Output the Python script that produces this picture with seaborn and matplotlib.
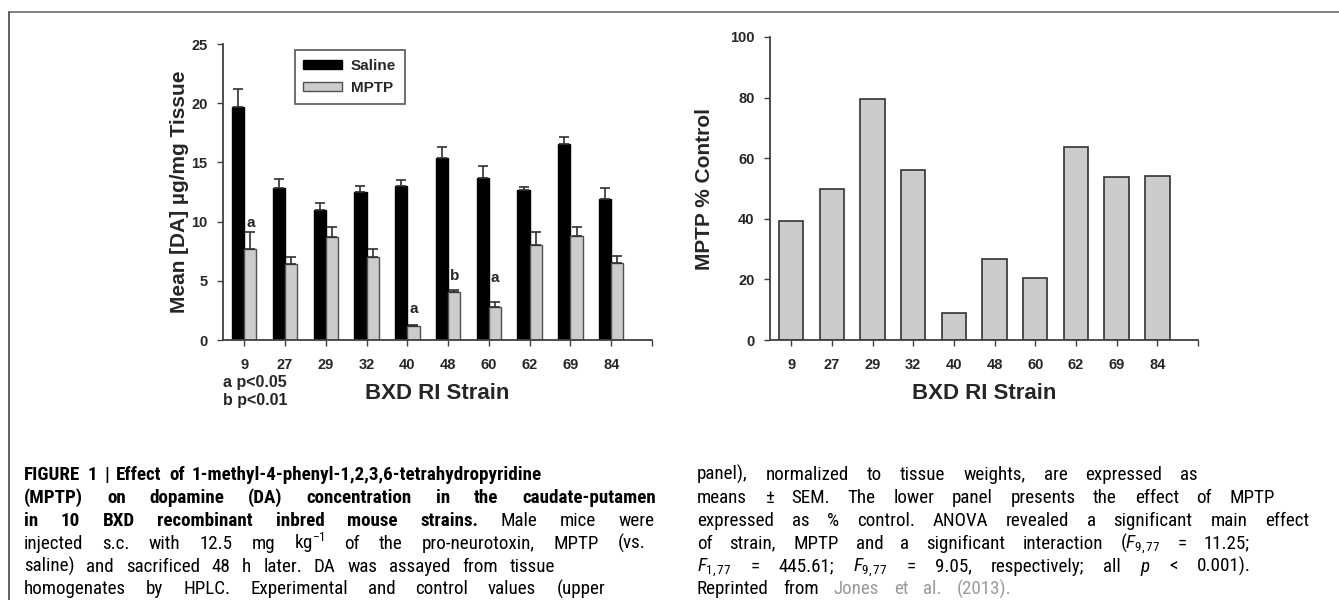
import numpy as np
import pandas as pd
import matplotlib
matplotlib.use("Agg")
import matplotlib.pyplot as plt
from matplotlib import font_manager
from matplotlib.lines import Line2D
from matplotlib.patches import Patch
import seaborn as sns

# data
strains = ['9', '27', '29', '32', '40', '48', '60', '62', '69', '84']
saline = [19.65, 12.87, 10.98, 12.47, 13.03, 15.34, 13.71, 12.70, 16.53, 11.94]
saline_sem = [1.58, 0.76, 0.62, 0.56, 0.46, 0.99, 1.01, 0.22, 0.59, 0.90]
mptp = [7.71, 6.39, 8.73, 6.98, 1.15, 4.05, 2.79, 8.05, 8.81, 6.48]
mptp_sem = [1.41, 0.62, 0.84, 0.73, 0.12, 0.17, 0.45, 1.04, 0.76, 0.61]
pct_control = [39.4, 49.9, 79.5, 56.1, 8.8, 26.6, 20.6, 63.6, 53.7, 54.2]

sig_strain = ['9', '40', '48', '60']
sig_letter = ['a', 'a', 'b', 'a']
sig_y = [9.57, 2.25, 5.07, 4.93]

groups = ['Saline', 'MPTP']
group_colours = {'Saline': 'black', 'MPTP': '#cccccc'}

left_caption = [
    ([("FIGURE 1 | Effect of 1-methyl-4-phenyl-1,2,3,6-tetrahydropyridine", 'bold', 'black')], 542),
    ([("(MPTP) on dopamine (DA) concentration in the caudate-putamen", 'bold', 'black')], 656),
    ([("in 10 BXD recombinant inbred mouse strains.", 'bold', 'black'),
      ("Male mice were", 'normal', 'black')], 655),
    ([(r"injected s.c. with 12.5 mg kg$^{-1}$ of the pro-neurotoxin, MPTP (vs.", 'normal', 'black')], 646),
    ([("saline) and sacrificed 48 h later. DA was assayed from tissue", 'normal', 'black')], 555),
    ([("homogenates by HPLC. Experimental and control values (upper", 'normal', 'black')], 605),
]
right_caption = [
    ([("panel), normalized to tissue weights, are expressed as", 'normal', 'black')], 1198),
    ([("means \u00b1 SEM. The lower panel presents the effect of MPTP", 'normal', 'black')], 1275),
    ([("expressed as % control. ANOVA revealed a significant main effect", 'normal', 'black')], 1309),
    ([(r"of strain, MPTP and a significant interaction ($F_{9,77}$ = 11.25;", 'normal', 'black')], 1250),
    ([(r"$F_{1,77}$ = 445.61; $F_{9,77}$ = 9.05, respectively; all $p$ < 0.001).", 'normal', 'black')], 1251),
    ([("Reprinted from", 'normal', 'black'), ("Jones et al. (2013).", 'normal', '#9a9a9a')], 1011),
]

sns.set_style('ticks')
plt.rcParams['font.family'] = ['Liberation Sans', 'DejaVu Sans']

# caption font: a narrow sans if one is installed, plain Liberation Sans otherwise
cap_font, cap_stretch = 'Liberation Sans', 'normal'
narrow = []
for f in font_manager.fontManager.ttflist:
    if 'Mono' in f.name or 'Serif' in f.name or 'CJK' in f.name:
        continue
    if 'Narrow' in f.name or 'Condensed' in f.name or f.stretch in ('condensed', 'semi-condensed'):
        narrow.append((f.name, f.stretch))
for pref in ('Liberation Sans Narrow', 'Roboto Condensed', 'Open Sans Condensed', 'Noto Sans',
             'DejaVu Sans'):
    hit = [c for c in narrow if c[0] == pref]
    if hit:
        cap_font, cap_stretch = hit[0]
        break
plt.rcParams['mathtext.fontset'] = 'custom'
plt.rcParams['mathtext.rm'] = cap_font
plt.rcParams['mathtext.it'] = cap_font + ':italic'

W, H = 1339, 600
fig = plt.figure(figsize=(W / 100, H / 100), dpi=100)
fig.patch.set_facecolor('white')
ax1 = fig.add_axes([223 / W, 1 - 340 / H, (652 - 223) / W, 296 / H])
ax2 = fig.add_axes([770 / W, 1 - 340 / H, (1198 - 770) / W, 303 / H])

# upper panel: saline vs MPTP
df = pd.DataFrame({'strain': strains * 2,
                   'group': ['Saline'] * len(strains) + ['MPTP'] * len(strains),
                   'da': saline + mptp})
sns.barplot(data=df, x='strain', y='da', hue='group', order=strains, hue_order=groups,
            palette=group_colours, width=0.6, gap=0, errorbar=None, saturation=1,
            edgecolor='#404040', linewidth=1.0, legend=False, ax=ax1)

for bars, sem, edge in zip(ax1.containers, [saline_sem, mptp_sem], ['black', '#505050']):
    for b in bars:
        b.set_edgecolor(edge)
    xs = [b.get_x() + b.get_width() / 2 for b in bars]
    hs = [b.get_height() for b in bars]
    ax1.errorbar(xs, hs, yerr=[np.zeros(len(sem)), sem], fmt='none', ecolor='#303030',
                 elinewidth=1.2, capsize=3.5, capthick=1.2)

mptp_bars = ax1.containers[1]
for s, letter, y in zip(sig_strain, sig_letter, sig_y):
    b = mptp_bars[strains.index(s)]
    ax1.text(b.get_x() + b.get_width() / 2, y, letter, ha='center', va='baseline',
             fontsize=11, fontweight='bold')

handles = [Patch(facecolor=group_colours[g], edgecolor='black' if g == 'Saline' else '#505050')
           for g in groups]
leg = ax1.legend(handles, groups, loc='upper left', bbox_to_anchor=(0.149, 1.004),
                 frameon=True, fancybox=False, edgecolor='#555555', framealpha=1,
                 prop=dict(weight='bold', size=11), handlelength=2.55, handleheight=0.55,
                 borderpad=0.55, labelspacing=0.55, handletextpad=0.6)
leg.get_frame().set_linewidth(1.2)

ax1.set_ylim(0, 25)
ax1.set_yticks(range(0, 26, 5))
ax1.set_ylabel('Mean [DA] \u00b5g/mg Tissue', fontsize=15, fontweight='bold')
ax1.yaxis.set_label_coords((189 - 223) / (652 - 223), 0.5)

fig.text(223 / W, 1 - 387 / H, 'a p<0.05', fontsize=11.5, fontweight='bold', va='baseline')
fig.text(223 / W, 1 - 405 / H, 'b p<0.01', fontsize=11.5, fontweight='bold', va='baseline')

# lower panel: MPTP as % of control
sns.barplot(x=strains, y=pct_control, order=strains, color='#cccccc', width=0.6,
            saturation=1, edgecolor='#333333', linewidth=1.2, ax=ax2)
ax2.set_ylim(0, 100)
ax2.set_yticks(range(0, 101, 20))
ax2.set_ylabel('MPTP % Control', fontsize=15, fontweight='bold')
ax2.yaxis.set_label_coords((714 - 770) / (1198 - 770), 0.5)

for ax, h in ((ax1, 296), (ax2, 303)):
    sns.despine(ax=ax)
    for side in ('left', 'bottom'):
        ax.spines[side].set_color('#404040')
        ax.spines[side].set_linewidth(1.3)
    ax.set_xlim(-0.52, 10.0)
    ax.set_xticks([10], minor=True)
    ax.tick_params(axis='both', which='both', direction='out', length=4, width=1,
                   color='#404040', labelsize=10.5)
    ax.tick_params(axis='x', pad=9)
    ax.tick_params(axis='y', pad=7)
    for lbl in ax.get_xticklabels() + ax.get_yticklabels():
        lbl.set_fontweight('bold')
    ax.set_xlabel('BXD RI Strain', fontsize=16, fontweight='bold', va='top')
    ax.xaxis.set_label_coords(0.5, -(383 - 340) / h)

# frame lines of the figure panel
fig.add_artist(Line2D([9 / W, 1], [1 - 12 / H, 1 - 12 / H], color='#777777', lw=1.3,
                      transform=fig.transFigure))
fig.add_artist(Line2D([9 / W, 9 / W], [1 - 12 / H, 0], color='#555555', lw=1.3,
                      transform=fig.transFigure))

# caption, justified word by word
renderer = fig.canvas.get_renderer()
baselines = [480, 502.9, 525.8, 548.7, 571.6, 594.5]

# size the caption so the first (bold) line leaves a little extra word space
probe = fig.text(0, 0, left_caption[0][0][0][0], fontsize=12, fontweight='bold',
                 fontfamily=cap_font, fontstretch=cap_stretch)
natural = probe.get_window_extent(renderer).width
probe.remove()
cap_size = min(15.0, max(12.0, 12 * 503 / natural))


def put_line(segments, x0, x1, y):
    arts = []
    for text, weight, colour in segments:
        for word in text.split():
            arts.append(fig.text(x0 / W, 1 - y / H, word, fontsize=cap_size, fontweight=weight,
                                 color=colour, va='baseline', fontfamily=cap_font,
                                 fontstretch=cap_stretch))
    widths = [a.get_window_extent(renderer).width for a in arts]
    gap = (x1 - x0 - sum(widths)) / max(len(arts) - 1, 1)
    gap = max(gap, 3)
    x = x0
    for a, wd in zip(arts, widths):
        a.set_x(x / W)
        x += wd + gap


for (segs, x1), y in zip(left_caption, baselines):
    put_line(segs, 24, x1, y)
for (segs, x1), y in zip(right_caption, baselines):
    put_line(segs, 697, x1, y)

fig.savefig('out.png', dpi=100, facecolor='white')
